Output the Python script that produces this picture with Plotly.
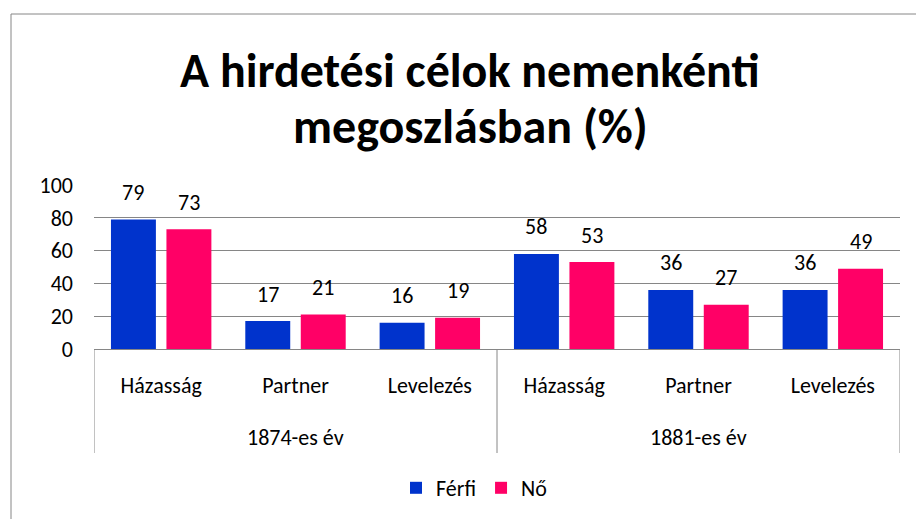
import plotly.graph_objects as go

years = ["1874-es év", "1881-es év"]
goals = ["Házasság", "Partner", "Levelezés", "Házasság", "Partner", "Levelezés"]
ferfi = [79, 17, 16, 58, 36, 36]
no = [73, 21, 19, 53, 27, 49]
series_names = ["Férfi", "Nő"]
colors = ["#0033CC", "#FF0066"]
title_lines = ["A hirdetési célok nemenkénti", "megoszlásban (%)"]
y_ticks = [0, 20, 40, 60, 80, 100]

W, H = 916, 519
ML, MR, MT, MB = 94, 16, 185, 170
PW, PH = W - ML - MR, H - MT - MB

FONT = "Calibri, Carlito, Lato, sans-serif"
GRAY = "#868686"

BARGAP = 0.174
BARGROUPGAP = 0.19
slot = (1 - BARGAP) / 2

xs = list(range(len(goals)))

fig = go.Figure()
for k, (name, vals, col) in enumerate(zip(series_names, [ferfi, no], colors)):
    fig.add_trace(go.Bar(
        x=xs, y=vals, name=name,
        marker=dict(color=col, line=dict(width=0)),
        hoverinfo="x+y+name",
    ))
    off = (k - 0.5) * slot
    for xi, v in zip(xs, vals):
        fig.add_annotation(x=xi + off, y=v, xref="x", yref="y",
                           text=str(v), showarrow=False,
                           yanchor="middle", yshift=27,
                           font=dict(size=22, family=FONT, color="#000000"))


def px_to_py(py):
    return (H - MB - py) / PH


def px_to_px(px):
    return (px - ML) / PW


# title lines
for line, cy in zip(title_lines, [70, 127]):
    fig.add_annotation(x=px_to_px(470), y=px_to_py(cy), xref="paper", yref="paper",
                       text="<b>" + line + "</b>", showarrow=False,
                       xanchor="center", yanchor="middle",
                       font=dict(size=48, family=FONT, color="#000000"))

# year group labels
for gi, yr in enumerate(years):
    fig.add_annotation(x=gi * 3 + 1, y=px_to_py(437), xref="x", yref="paper",
                       text=yr, showarrow=False, xanchor="center", yanchor="middle",
                       font=dict(size=22, family=FONT, color="#000000"))

# group dividers
for xd in [-0.5, 2.5, 5.5]:
    fig.add_shape(type="line", xref="x", yref="paper", x0=xd, x1=xd,
                  y0=0, y1=px_to_py(453), line=dict(color=GRAY, width=1))

# outer chart border (top and left visible)
fig.add_shape(type="line", xref="paper", yref="paper",
              x0=px_to_px(11), x1=px_to_px(W + 5), y0=px_to_py(14), y1=px_to_py(14),
              line=dict(color=GRAY, width=1))
fig.add_shape(type="line", xref="paper", yref="paper",
              x0=px_to_px(11), x1=px_to_px(11), y0=px_to_py(14), y1=px_to_py(H + 5),
              line=dict(color=GRAY, width=1))

fig.update_layout(
    width=W, height=H,
    margin=dict(l=ML, r=MR, t=MT, b=MB, autoexpand=False),
    paper_bgcolor="white", plot_bgcolor="white",
    barmode="group", bargap=BARGAP, bargroupgap=BARGROUPGAP,
    font=dict(family=FONT, size=22, color="#000000"),
    showlegend=True,
    legend=dict(orientation="h", x=px_to_px(474), xanchor="center",
                y=px_to_py(488), yanchor="middle",
                font=dict(size=22, family=FONT), itemwidth=30, traceorder="normal"),
    xaxis=dict(
        range=[-0.5, 5.5], tickmode="array", tickvals=xs, ticktext=goals,
        showline=True, linecolor=GRAY, linewidth=1,
        tickfont=dict(size=22, family=FONT, color="#000000"),
        ticks="", showgrid=False, zeroline=False, automargin=False,
        ticklabelstandoff=17,
    ),
    yaxis=dict(
        range=[0, 100], tickmode="array", tickvals=y_ticks,
        showgrid=True, gridcolor=GRAY, gridwidth=1,
        zeroline=False, showline=False, automargin=False,
        tickfont=dict(size=22, family=FONT, color="#000000"),
        ticks="", ticklabelstandoff=20,
    ),
)

fig.write_html("out.html",
               config={"displayModeBar": False},
               post_script="document.body.style.margin='0';"
                           "document.body.style.overflow='hidden';")
